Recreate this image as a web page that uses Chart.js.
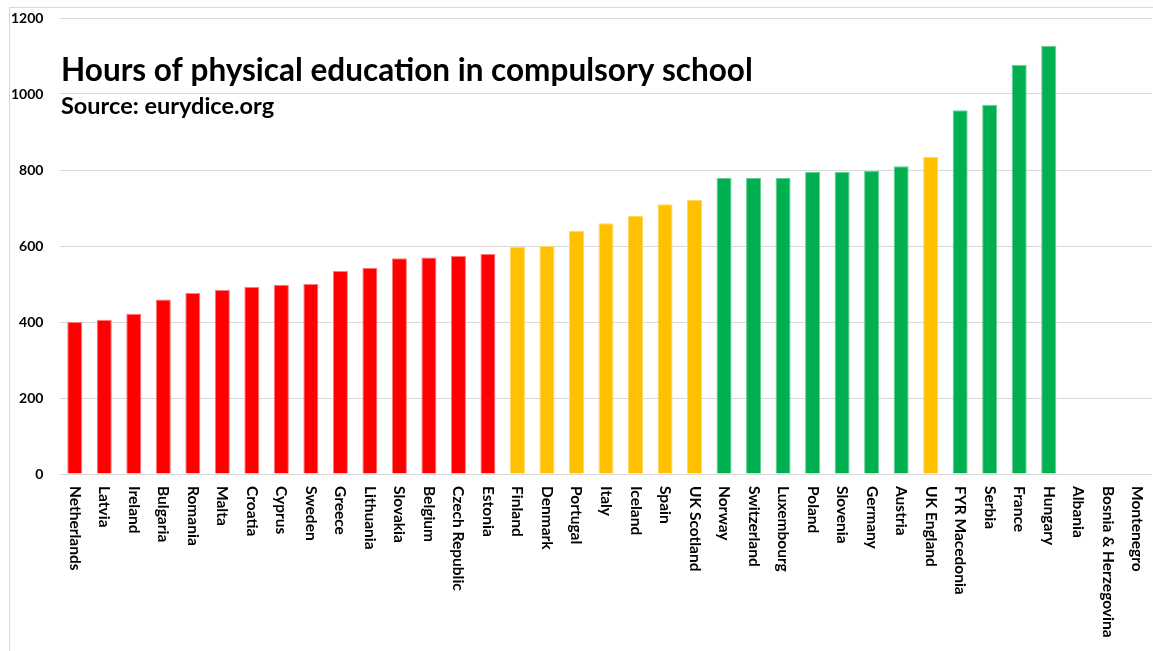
<!DOCTYPE html>
<html>
<head>
<meta charset="utf-8">
<script src="https://cdn.jsdelivr.net/npm/chart.js@4"></script>
<style>
  body { margin: 0; background: #fff; }
</style>
</head>
<body>
<canvas id="chart" width="1153" height="651"></canvas>
<script>
const countries = ['Netherlands', 'Latvia', 'Ireland', 'Bulgaria', 'Romania', 'Malta', 'Croatia', 'Cyprus',
    'Sweden', 'Greece', 'Lithuania', 'Slovakia', 'Belgium', 'Czech Republic', 'Estonia', 'Finland',
    'Denmark', 'Portugal', 'Italy', 'Iceland', 'Spain', 'UK Scotland', 'Norway', 'Switzerland',
    'Luxembourg', 'Poland', 'Slovenia', 'Germany', 'Austria', 'UK England', 'FYR Macedonia', 'Serbia',
    'France', 'Hungary', 'Albania', 'Bosnia & Herzegovina', 'Montenegro'];
const hours = [400, 406, 422, 459, 476, 484, 492, 498, 500, 534, 543, 568, 570, 574, 579, 598,
    600, 640, 660, 679, 710, 721, 779, 779, 779, 795, 795, 798, 810, 835, 957, 972,
    1077, 1127, null, null, null];
// r = red, a = amber, g = green
const bands = ['r', 'r', 'r', 'r', 'r', 'r', 'r', 'r', 'r', 'r', 'r', 'r', 'r', 'r', 'r', 'a',
    'a', 'a', 'a', 'a', 'a', 'a', 'g', 'g', 'g', 'g', 'g', 'g', 'g', 'a', 'g', 'g',
    'g', 'g', 'g', 'g', 'g'];
const yTicks = [0, 200, 400, 600, 800, 1000, 1200];

const fill = { r: '#ff0000', a: '#ffc000', g: '#00b050' };
const edge = { r: '#ff7a7a', a: '#ffd966', g: '#66cf94' };

const font = 'Lato, "Open Sans", sans-serif';

const decorations = {
    id: 'decorations',
    beforeDraw(chart) {
        const ctx = chart.ctx;
        ctx.save();
        ctx.strokeStyle = '#d9d9d9';
        ctx.lineWidth = 1;
        ctx.strokeRect(9.5, 7.5, 1200, 700);
        ctx.restore();
    },
    afterDraw(chart) {
        const ctx = chart.ctx;
        const xs = chart.scales.x;
        ctx.save();
        ctx.fillStyle = '#000';
        ctx.font = 'bold 31.5px ' + font;
        ctx.textBaseline = 'alphabetic';
        ctx.fillText('Hours of physical education in compulsory school', 61, 81);
        ctx.font = 'bold 23.5px ' + font;
        ctx.fillText('Source: eurydice.org', 61, 114);

        ctx.font = 'bold 15.5px ' + font;
        ctx.textAlign = 'left';
        ctx.textBaseline = 'middle';
        countries.forEach((c, i) => {
            ctx.save();
            ctx.translate(xs.getPixelForValue(i), 486);
            ctx.rotate(Math.PI / 2);
            ctx.fillText(c, 0, 0);
            ctx.restore();
        });
        ctx.restore();
    }
};

new Chart(document.getElementById('chart'), {
    type: 'bar',
    data: {
        labels: countries,
        datasets: [{
            data: hours,
            backgroundColor: bands.map(b => fill[b]),
            borderColor: bands.map(b => edge[b]),
            borderWidth: 1,
            barPercentage: 0.51,
            categoryPercentage: 1.0
        }]
    },
    options: {
        responsive: false,
        animation: false,
        layout: { padding: { top: 0, right: 1, left: 0, bottom: 0 } },
        plugins: { legend: { display: false }, tooltip: { enabled: false } },
        scales: {
            x: {
                grid: { display: false },
                border: { display: false },
                ticks: { display: false },
                afterFit(scale) { scale.height = 177; }
            },
            y: {
                min: 0,
                max: 1200,
                afterBuildTicks(scale) { scale.ticks = yTicks.map(v => ({ value: v })); },
                grid: { color: '#d9d9d9', drawTicks: true, tickLength: 7, tickColor: 'rgba(0,0,0,0)' },
                border: { display: false },
                ticks: {
                    padding: 9.6,
                    color: '#000',
                    font: { family: font, size: 14, weight: 'bold' },
                    callback: v => String(v)
                },
                afterFit(scale) { scale.width = 60; }
            }
        }
    },
    plugins: [decorations]
});
</script>
</body>
</html>
